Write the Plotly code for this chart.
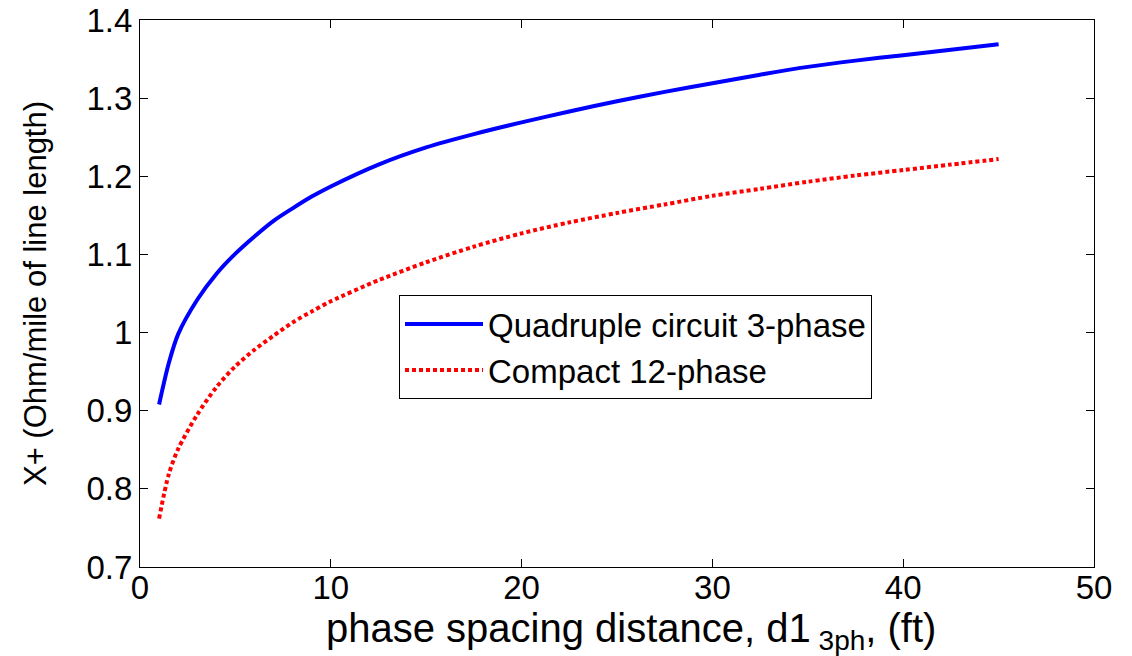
import plotly.graph_objects as go

# phase spacing distance (ft)
x_vals = [1, 1.5, 2, 3, 4, 5, 6, 7, 8, 9, 10, 12.5, 15, 17.5, 20, 22.5, 25,
          27.5, 30, 32.5, 35, 37.5, 40, 42.5, 45]

# X+ (Ohm/mile), Quadruple circuit 3-phase
quad_3ph = [0.908, 0.960, 0.998, 1.042, 1.075, 1.101, 1.123, 1.143, 1.159,
            1.174, 1.187, 1.215, 1.237, 1.254, 1.269, 1.283, 1.296, 1.308,
            1.319, 1.330, 1.340, 1.348, 1.355, 1.362, 1.369]

# X+ (Ohm/mile), Compact 12-phase
compact_12ph = [0.762, 0.818, 0.851, 0.895, 0.930, 0.957, 0.978, 0.996, 1.013,
                1.027, 1.040, 1.067, 1.090, 1.110, 1.127, 1.141, 1.153, 1.164,
                1.175, 1.184, 1.193, 1.201, 1.208, 1.215, 1.222]

x_ticks = [0, 10, 20, 30, 40, 50]
y_ticks = [0.7, 0.8, 0.9, 1.0, 1.1, 1.2, 1.3, 1.4]
y_tick_text = ["0.7", "0.8", "0.9", "1", "1.1", "1.2", "1.3", "1.4"]

FONT = "Liberation Sans, Arial, sans-serif"

fig = go.Figure()
fig.add_trace(go.Scatter(
    x=x_vals, y=quad_3ph, mode="lines", name="Quadruple circuit 3-phase",
    line=dict(color="#0000FF", width=4, shape="spline", smoothing=0.8),
))
fig.add_trace(go.Scatter(
    x=x_vals, y=compact_12ph, mode="lines", name="Compact 12-phase",
    line=dict(color="#FF0000", width=4, dash="4px,3px", shape="spline", smoothing=0.8),
))

axis_common = dict(
    showline=True, linecolor="black", linewidth=1, mirror="allticks",
    ticks="inside", ticklen=8, tickcolor="black", tickwidth=1,
    showgrid=False, zeroline=False, automargin=False,
    ticklabeloverflow="allow",
    tickfont=dict(family=FONT, size=33, color="black"),
)

fig.update_xaxes(
    range=[0, 50], tickvals=x_ticks, ticktext=[str(t) for t in x_ticks],
    ticklabelstandoff=-9,
    **axis_common,
)
fig.update_yaxes(
    range=[0.7, 1.4], tickvals=y_ticks, ticktext=y_tick_text,
    title=dict(text="X+ (Ohm/mile of line length)",
               font=dict(family=FONT, size=31, color="black"), standoff=30),
    **axis_common,
)

fig.add_annotation(
    text="phase spacing distance, d1<sub> 3ph</sub>, (ft)",
    xref="paper", yref="paper", x=0.515, y=-0.068,
    xanchor="center", yanchor="top", showarrow=False,
    font=dict(family=FONT, size=40, color="black"),
)

fig.update_layout(
    width=1124, height=648,
    margin=dict(l=132, r=38, t=12, b=89),
    paper_bgcolor="white", plot_bgcolor="white",
    font=dict(family=FONT, color="black"),
    legend=dict(
        x=0.2715, y=0.497, xanchor="left", yanchor="top",
        bordercolor="black", borderwidth=1, bgcolor="white",
        font=dict(family=FONT, size=33, color="black"),
        itemwidth=78, tracegroupgap=0,
    ),
    showlegend=True,
)

fig.write_html("out.html")
